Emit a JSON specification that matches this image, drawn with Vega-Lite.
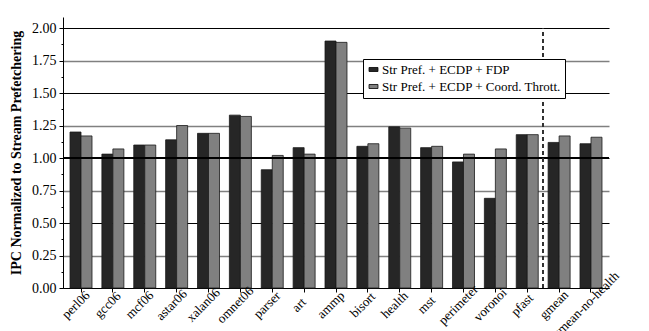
{
  "$schema": "https://vega.github.io/schema/vega-lite/v6.json",
  "autosize": {"type": "none"},
  "padding": {"left": 63, "top": 17, "right": 40, "bottom": 43},
  "width": 546,
  "height": 271,
  "background": "white",
  "config": {
    "view": {"stroke": null},
    "font": "Liberation Serif",
    "axis": {"labelFont": "Liberation Serif", "titleFont": "Liberation Serif", "labelColor": "black"},
    "legend": {"labelFont": "Liberation Serif", "labelFontSize": 13, "labelColor": "black"}
  },
  "resolve": {"axis": {"x": "independent", "y": "independent"}},
  "data": {"values": [
    {"bench": "perl06", "series": "Str Pref. + ECDP + FDP", "ipc": 1.20},
    {"bench": "perl06", "series": "Str Pref. + ECDP + Coord. Thrott.", "ipc": 1.17},
    {"bench": "gcc06", "series": "Str Pref. + ECDP + FDP", "ipc": 1.03},
    {"bench": "gcc06", "series": "Str Pref. + ECDP + Coord. Thrott.", "ipc": 1.07},
    {"bench": "mcf06", "series": "Str Pref. + ECDP + FDP", "ipc": 1.10},
    {"bench": "mcf06", "series": "Str Pref. + ECDP + Coord. Thrott.", "ipc": 1.10},
    {"bench": "astar06", "series": "Str Pref. + ECDP + FDP", "ipc": 1.14},
    {"bench": "astar06", "series": "Str Pref. + ECDP + Coord. Thrott.", "ipc": 1.25},
    {"bench": "xalan06", "series": "Str Pref. + ECDP + FDP", "ipc": 1.19},
    {"bench": "xalan06", "series": "Str Pref. + ECDP + Coord. Thrott.", "ipc": 1.19},
    {"bench": "omnet06", "series": "Str Pref. + ECDP + FDP", "ipc": 1.33},
    {"bench": "omnet06", "series": "Str Pref. + ECDP + Coord. Thrott.", "ipc": 1.32},
    {"bench": "parser", "series": "Str Pref. + ECDP + FDP", "ipc": 0.91},
    {"bench": "parser", "series": "Str Pref. + ECDP + Coord. Thrott.", "ipc": 1.02},
    {"bench": "art", "series": "Str Pref. + ECDP + FDP", "ipc": 1.08},
    {"bench": "art", "series": "Str Pref. + ECDP + Coord. Thrott.", "ipc": 1.03},
    {"bench": "ammp", "series": "Str Pref. + ECDP + FDP", "ipc": 1.90},
    {"bench": "ammp", "series": "Str Pref. + ECDP + Coord. Thrott.", "ipc": 1.89},
    {"bench": "bisort", "series": "Str Pref. + ECDP + FDP", "ipc": 1.09},
    {"bench": "bisort", "series": "Str Pref. + ECDP + Coord. Thrott.", "ipc": 1.11},
    {"bench": "health", "series": "Str Pref. + ECDP + FDP", "ipc": 1.24},
    {"bench": "health", "series": "Str Pref. + ECDP + Coord. Thrott.", "ipc": 1.23},
    {"bench": "mst", "series": "Str Pref. + ECDP + FDP", "ipc": 1.08},
    {"bench": "mst", "series": "Str Pref. + ECDP + Coord. Thrott.", "ipc": 1.09},
    {"bench": "perimeter", "series": "Str Pref. + ECDP + FDP", "ipc": 0.97},
    {"bench": "perimeter", "series": "Str Pref. + ECDP + Coord. Thrott.", "ipc": 1.03},
    {"bench": "voronoi", "series": "Str Pref. + ECDP + FDP", "ipc": 0.69},
    {"bench": "voronoi", "series": "Str Pref. + ECDP + Coord. Thrott.", "ipc": 1.07},
    {"bench": "pfast", "series": "Str Pref. + ECDP + FDP", "ipc": 1.18},
    {"bench": "pfast", "series": "Str Pref. + ECDP + Coord. Thrott.", "ipc": 1.18},
    {"bench": "gmean", "series": "Str Pref. + ECDP + FDP", "ipc": 1.12},
    {"bench": "gmean", "series": "Str Pref. + ECDP + Coord. Thrott.", "ipc": 1.17},
    {"bench": "gmean-no-health", "series": "Str Pref. + ECDP + FDP", "ipc": 1.11},
    {"bench": "gmean-no-health", "series": "Str Pref. + ECDP + Coord. Thrott.", "ipc": 1.16}
  ]},
  "layer": [
    {
      "mark": {"type": "bar", "stroke": "#1a1a1a", "strokeWidth": 0.8},
      "encoding": {
        "x": {
          "field": "bench", "type": "nominal", "sort": null,
          "scale": {"paddingInner": 0.31, "paddingOuter": 0.22},
          "axis": {
            "title": null, "labels": false,
            "domainColor": "black", "domainWidth": 1, "tickColor": "black", "tickSize": 4
          }
        },
        "xOffset": {"field": "series", "type": "nominal", "sort": null},
        "y": {
          "field": "ipc", "type": "quantitative",
          "scale": {"domain": [0, 2.085], "nice": false, "zero": true},
          "axis": {
            "title": "IPC Normalized to Stream Prefetchering",
            "titleFontSize": 14, "titleFontWeight": "bold",
            "titleColor": "black", "titlePadding": 8,
            "values": [0, 0.125, 0.25, 0.375, 0.5, 0.625, 0.75, 0.875, 1, 1.125, 1.25, 1.375, 1.5, 1.625, 1.75, 1.875, 2],
            "labelExpr": "datum.value * 4 % 1 === 0 ? format(datum.value, '.2f') : ''",
            "labelFontSize": 14,
            "labelPadding": 3,
            "domainColor": "black", "domainWidth": 1, "tickColor": "black",
            "tickSize": {"condition": {"test": "datum.value * 4 % 1 === 0", "value": 4}, "value": 2},
            "grid": true,
            "gridColor": {"condition": {"test": "datum.value * 2 % 1 === 0", "value": "black"}, "value": "#808080"},
            "gridWidth": {"condition": {"test": "datum.value * 2 % 1 === 0", "value": 1.2}, "value": 1.5},
            "gridOpacity": {"condition": {"test": "datum.value * 4 % 1 === 0", "value": 1}, "value": 0}
          }
        },
        "color": {
          "field": "series", "type": "nominal", "sort": null,
          "scale": {"range": ["#262626", "#808080"]},
          "legend": {
            "title": null, "orient": "none", "legendX": 300, "legendY": 42,
            "direction": "vertical",
            "strokeColor": "black", "fillColor": "white", "padding": 4,
            "labelFont": "Liberation Serif", "labelFontSize": 13,
            "symbolType": "M-1,-0.45H1V0.45H-1Z", "symbolSize": 80, "symbolStrokeColor": "black",
            "symbolStrokeWidth": 0.8, "rowPadding": 3, "labelOffset": 2, "labelLimit": 400
          }
        }
      }
    },
    {
      "transform": [{"filter": "datum.series === 'Str Pref. + ECDP + FDP'"}],
      "mark": {"type": "text", "angle": -45, "align": "center", "baseline": "middle", "font": "Liberation Serif", "fontSize": 13, "color": "black", "xOffset": -5, "yOffset": 17},
      "encoding": {
        "x": {"field": "bench", "type": "nominal", "sort": null, "axis": null},
        "y": {"datum": 0, "type": "quantitative", "axis": null},
        "text": {"field": "bench"}
      }
    },
    {
      "mark": {"type": "rule", "color": "black", "strokeWidth": 1.5},
      "encoding": {"y": {"datum": 1, "type": "quantitative", "axis": null}}
    },
    {
      "mark": {"type": "rule", "color": "#333", "strokeWidth": 1, "strokeDash": [4, 3], "xOffset": -5},
      "encoding": {
        "x": {"datum": "gmean", "type": "nominal", "bandPosition": 0, "axis": null},
        "y": {"datum": 0, "type": "quantitative", "axis": null},
        "y2": {"datum": 2}
      }
    }
  ]
}
